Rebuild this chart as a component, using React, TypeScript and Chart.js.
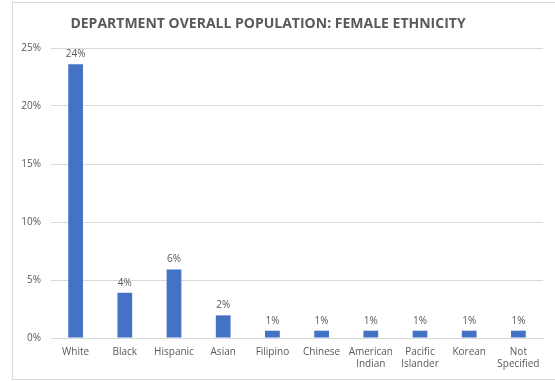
import React, { useEffect, useRef } from "react";
import { Chart, registerables } from "chart.js";

Chart.register(...registerables);

const categories: (string | string[])[] = [
  "White",
  "Black",
  "Hispanic",
  "Asian",
  "Filipino",
  "Chinese",
  ["American", "Indian"],
  ["Pacific", "Islander"],
  "Korean",
  ["Not", "Specified"],
];
const values = [23.6, 3.9, 5.9, 1.95, 0.63, 0.63, 0.63, 0.63, 0.63, 0.63];
const yTicks = [0, 5, 10, 15, 20, 25];
const TITLE = "DEPARTMENT OVERALL POPULATION: FEMALE ETHNICITY";

const FONT = "Open Sans, Liberation Sans, sans-serif";
const GRAY = "#595959";

const labelPlugin = {
  id: "barLabels",
  afterDatasetsDraw(chart: any) {
    const ctx = chart.ctx;
    const meta = chart.getDatasetMeta(0);
    ctx.save();
    ctx.fillStyle = GRAY;
    ctx.font = `10px ${FONT}`;
    ctx.textAlign = "center";
    ctx.textBaseline = "bottom";
    meta.data.forEach((bar: any, i: number) => {
      ctx.fillText(Math.round(values[i]) + "%", bar.x, bar.y - 5);
    });
    ctx.restore();
  },
};

const framePlugin = {
  id: "frame",
  beforeDraw(chart: any) {
    const ctx = chart.ctx;
    ctx.save();
    ctx.fillStyle = "#ffffff";
    ctx.fillRect(0, 0, chart.width, chart.height);
    ctx.strokeStyle = "#d9d9d9";
    ctx.lineWidth = 1;
    ctx.strokeRect(12.5, 2.5, chart.width, chart.height - 4);
    ctx.fillStyle = GRAY;
    ctx.font = `bold 14px ${FONT}`;
    ctx.textAlign = "center";
    ctx.textBaseline = "alphabetic";
    ctx.fillText(TITLE, 268, 28);
    ctx.restore();
  },
};

export default function App() {
  const ref = useRef<HTMLCanvasElement>(null);
  useEffect(() => {
    if (!ref.current) return;
    const chart = new Chart(ref.current, {
      type: "bar",
      data: {
        labels: categories,
        datasets: [
          {
            data: values,
            backgroundColor: "#4472c4",
            barPercentage: 0.3,
            categoryPercentage: 1,
          },
        ],
      },
      options: {
        animation: false,
        responsive: false,
        layout: { padding: { left: 12, right: 12, top: 48, bottom: 3 } },
        plugins: {
          legend: { display: false },
          tooltip: { enabled: false },
          title: { display: false },
        },
        scales: {
          x: {
            grid: { display: false, drawTicks: false },
            border: { display: true, color: "#d9d9d9" },
            ticks: {
              color: GRAY,
              font: { family: FONT, size: 10 },
              padding: 8,
              maxRotation: 0,
              autoSkip: false,
            },
          },
          y: {
            min: 0,
            max: 25,
            afterBuildTicks: (axis: any) => {
              axis.ticks = yTicks.map((v) => ({ value: v }));
            },
            afterFit: (axis: any) => {
              axis.width = 39;
            },
            grid: { color: "#d9d9d9", drawTicks: false },
            border: { display: false },
            ticks: {
              color: GRAY,
              font: { family: FONT, size: 10 },
              padding: 10,
              callback: (v: any) => v + "%",
            },
          },
        },
      },
      plugins: [framePlugin, labelPlugin],
    });
    return () => chart.destroy();
  }, []);
  return (
    <div style={{ position: "fixed", left: 0, top: 0, width: 555, height: 381 }}>
      <canvas ref={ref} width={555} height={381} style={{ display: "block" }} />
    </div>
  );
}
